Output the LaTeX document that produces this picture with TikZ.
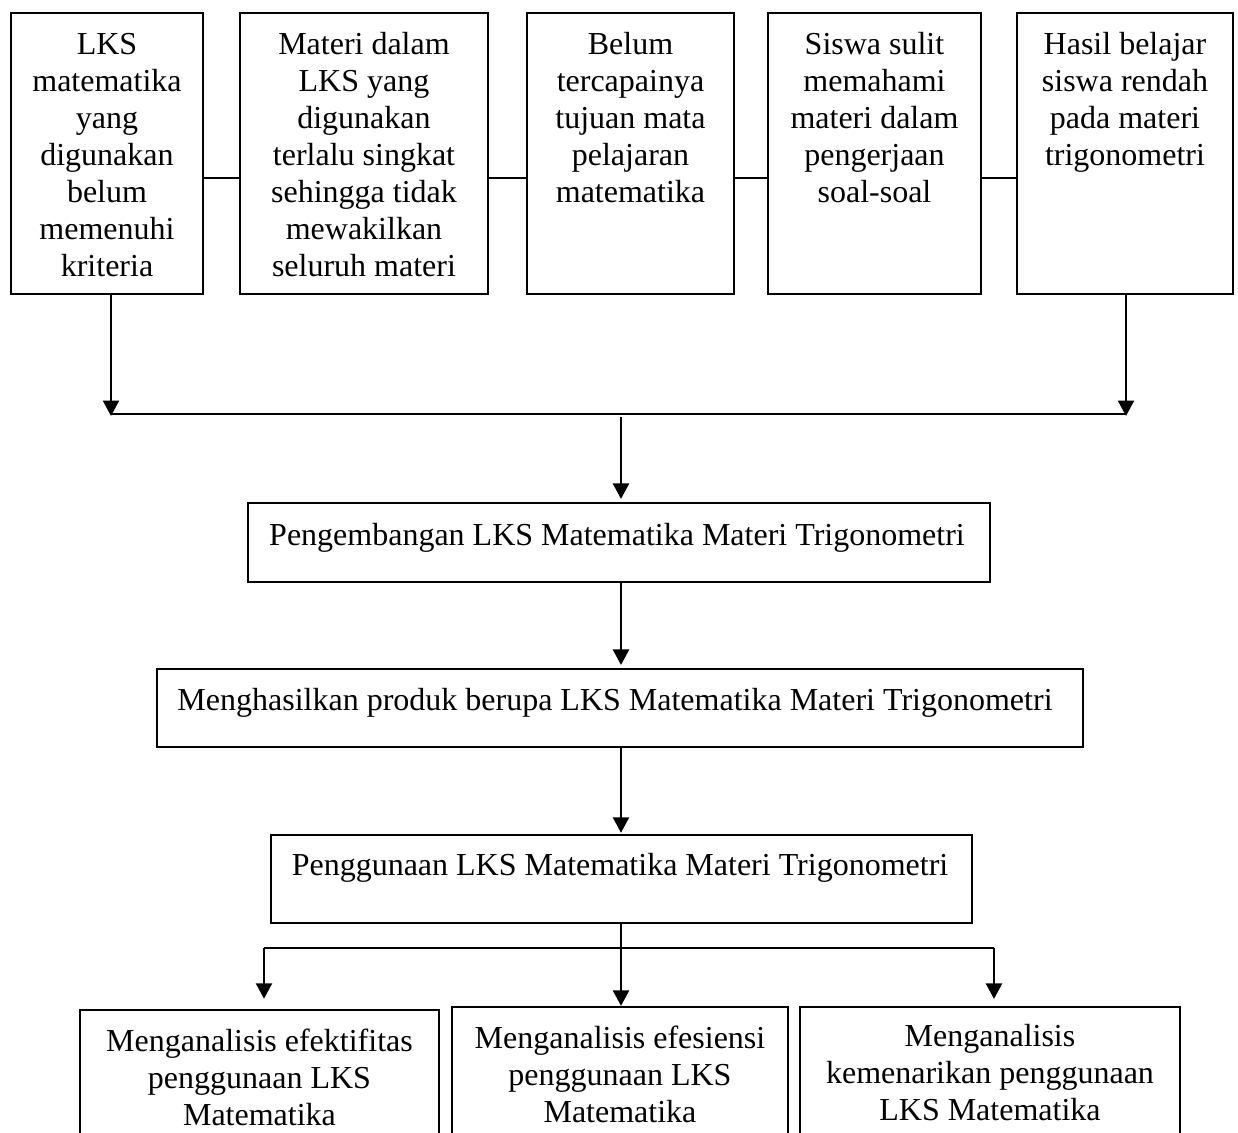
\documentclass[tikz,border=0pt]{standalone}
\usepackage{fontspec}
\setmainfont{Liberation Serif}
\usetikzlibrary{arrows.meta,fit}
\begin{document}
\begin{tikzpicture}[x=0.375pt,y=-0.375pt,
  line width=0.85pt,
  boxnode/.style={draw=black,line width=0.85pt,inner sep=0pt},
  txt/.style={align=center,inner sep=0pt,anchor=north,font=\fontsize{12}{13.9}\selectfont},
  stxt/.style={inner sep=0pt,anchor=base,font=\fontsize{12}{13.9}\selectfont},
  arr/.style={-{Triangle[width=6pt,length=5.8pt]}}]
\useasboundingbox (0,0) rectangle (1238,1133);
\clip (0,0) rectangle (1238,1133);

% top row
\node[boxnode,fit={(11,13) (203,294)}] (b1) {};
\node[boxnode,fit={(240,13) (488,294)}] (b2) {};
\node[boxnode,fit={(527,13) (734,294)}] (b3) {};
\node[boxnode,fit={(768,13) (981,294)}] (b4) {};
\node[boxnode,fit={(1017,13) (1233,294)}] (b5) {};

\node[txt] (t1) at (b1.north |- 0,27) {\strut LKS\\matematika\\yang\\digunakan\\belum\\memenuhi\\kriteria};
\node[txt] (t2) at (b2.north |- 0,27) {\strut Materi dalam\\LKS yang\\digunakan\\terlalu singkat\\sehingga tidak\\mewakilkan\\seluruh materi};
\node[txt] (t3) at (b3.north |- 0,27) {\strut Belum\\tercapainya\\tujuan mata\\pelajaran\\matematika};
\node[txt] (t4) at (b4.north |- 0,27) {\strut Siswa sulit\\memahami\\materi dalam\\pengerjaan\\soal-soal};
\node[txt] (t5) at (b5.north |- 0,27) {\strut Hasil belajar\\siswa rendah\\pada materi\\trigonometri};

\coordinate (m) at (0,178);
\draw (b1.east |- m) -- (b2.west |- m);
\draw (b2.east |- m) -- (b3.west |- m);
\draw (b3.east |- m) -- (b4.west |- m);
\draw (b4.east |- m) -- (b5.west |- m);

% collector
\coordinate (jl) at (111,414);
\coordinate (jr) at (1126,414);
\coordinate (js) at (621,417);
\draw[arr] (b1.south -| jl) -- ([yshift=-0.75pt]jl);
\draw[arr] (b5.south -| jr) -- ([yshift=-0.75pt]jr);
\draw (jl) -- (jr);

% middle chain
\node[boxnode,fit={(248,503) (990,582)}] (p1) {};
\node[boxnode,fit={(157,669) (1083,747)}] (p2) {};
\node[boxnode,fit={(271,835) (972,923)}] (p3) {};
\node[stxt] (pt1) at (617,545) {Pengembangan LKS Matematika Materi Trigonometri};
\node[stxt] (pt2) at (615,710) {Menghasilkan produk berupa LKS Matematika Materi Trigonometri};
\node[stxt] (pt3) at (620,875) {Penggunaan LKS Matematika Materi Trigonometri};

\draw[arr,shorten >=1.1pt] (js) -- (p1.north -| js);
\draw[arr,shorten >=1.1pt] (p1.south -| js) -- (p2.north -| js);
\draw[arr,shorten >=0.4pt] (p2.south -| js) -- (p3.north -| js);

% split
\coordinate (kl) at (264,948);
\coordinate (km) at (621,948);
\coordinate (kr) at (994,948);
\draw (p3.south -| km) -- (km);
\draw (kl) -- (kr);

% bottom row
\node[boxnode,fit={(80,1010) (439,1150)}] (c1) {};
\node[boxnode,fit={(452,1007) (788,1150)}] (c2) {};
\node[boxnode,fit={(800,1007) (1180,1150)}] (c3) {};
\node[txt] (u1) at (c1.north |- 0,1024) {\strut Menganalisis efektifitas\\penggunaan LKS\\Matematika};
\node[txt] (u2) at (c2.north |- 0,1021) {\strut Menganalisis efesiensi\\penggunaan LKS\\Matematika};
\node[txt] (u3) at (c3.north |- 0,1019) {\strut Menganalisis\\kemenarikan penggunaan\\LKS Matematika};

\draw[arr,shorten >=3.8pt] (kl) -- (c1.north -| kl);
\draw[arr] (km) -- (c2.north -| km);
\draw[arr,shorten >=2.6pt] (kr) -- (c3.north -| kr);
\end{tikzpicture}
\end{document}
